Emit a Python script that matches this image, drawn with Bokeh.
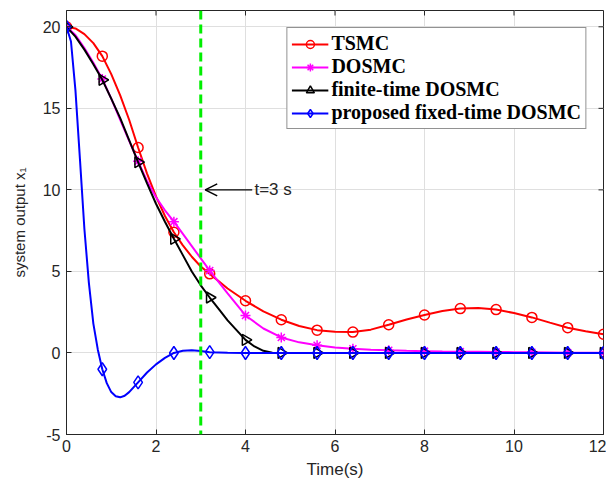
import numpy as np
from bokeh.plotting import figure
from bokeh.models import (Range1d, FixedTicker, Span, Arrow, OpenHead,
                          Label, Legend, LegendItem)
from bokeh.embed import file_html
from bokeh.resources import INLINE

# ---------------- data ----------------
t_tsmc = [0, 0.2, 0.4, 0.6, 0.8, 1.0, 1.2, 1.4, 1.6, 1.8, 2.0, 2.2, 2.4, 2.6, 2.8, 3.0, 3.2,
          3.6, 4.0, 4.4, 4.8, 5.2, 5.6, 6.0, 6.4, 6.8, 7.2, 7.6, 8.0, 8.4, 8.8, 9.2, 9.6,
          10.0, 10.4, 10.8, 11.2, 11.6, 12.0]
x1_tsmc = [20.0, 19.9, 19.55, 19.0, 18.2, 17.1, 15.8, 14.3, 12.6, 11.0, 9.6, 8.4, 7.4, 6.6, 5.9,
           5.3, 4.85, 3.95, 3.2, 2.55, 2.04, 1.65, 1.4, 1.3, 1.28, 1.43, 1.73, 2.05, 2.33, 2.57,
           2.72, 2.76, 2.66, 2.45, 2.18, 1.86, 1.55, 1.33, 1.15]

t_dosmc = t_tsmc
x1_dosmc = [20.0, 19.5, 18.7, 17.8, 16.8, 15.6, 14.3, 13.0, 11.75, 10.55, 9.55, 8.75, 8.05, 7.3,
            6.55, 5.8, 5.05, 3.65, 2.3, 1.5, 0.95, 0.65, 0.47, 0.34, 0.26, 0.2, 0.16, 0.13,
            0.11, 0.09, 0.08, 0.07, 0.06, 0.05, 0.04, 0.03, 0.02, 0.02, 0.01]

t_ft = [0, 0.2, 0.4, 0.6, 0.8, 1.0, 1.2, 1.4, 1.6, 1.8, 2.0, 2.2, 2.4, 2.6, 2.8, 3.0, 3.2,
        3.4, 3.6, 3.8, 4.0, 4.2, 4.4, 4.6, 4.8, 5.6, 6.4, 7.2, 8.0, 8.8, 9.6, 10.4, 11.2, 12.0]
x1_ft = [20.0, 19.4, 18.6, 17.7, 16.75, 15.6, 14.4, 13.05, 11.7, 10.4, 9.15, 8.05, 7.0, 6.0,
         5.0, 4.15, 3.4, 2.7, 2.0, 1.4, 0.8, 0.4, 0.13, 0.02, 0.0, 0.0, 0.0, 0.0, 0.0, 0.0,
         0.0, 0.0, 0.0, 0.0]

t_fx = [0, 0.1, 0.2, 0.3, 0.4, 0.5, 0.6, 0.7, 0.8, 0.9, 1.0, 1.1, 1.2, 1.3, 1.4, 1.6, 1.8,
        2.0, 2.2, 2.4, 2.6, 2.8, 3.0, 3.2, 3.6, 4.0, 4.8, 5.6, 6.4, 7.2, 8.0, 8.8, 9.6,
        10.4, 11.2, 12.0]
x1_fx = [20.0, 19.1, 16.1, 11.9, 7.6, 4.3, 1.8, 0.2, -1.0, -1.85, -2.4, -2.65, -2.72, -2.62,
         -2.4, -1.8, -1.2, -0.7, -0.3, 0.0, 0.13, 0.17, 0.12, 0.05, 0.01, 0.0, 0.0, 0.0,
         0.0, 0.0, 0.0, 0.0, 0.0, 0.0, 0.0, 0.0]

marker_step = 0.8
x_ticks = [0, 2, 4, 6, 8, 10, 12]
y_ticks = [-5, 0, 5, 10, 15, 20]
y_tick_labels = ["-5", "0", "5", "10", "15", "20"]
t_switch = 3
ann_text = "t=3 s"
ann_y = 10
ann_tip = 3.1
ann_tail = 4.15
ann_text_x = 4.2

labels = ["TSMC", "DOSMC", "finite-time DOSMC", "proposed fixed-time DOSMC"]

# ---------------- figure ----------------
AX = "#262626"
X0, X1, Y0, Y1 = 0, 12, -5, 21
W, H = 606, 486
BL, BR, BT, BB = 66, 3, 10, 52
TICK_PX = 5

p = figure(width=W, height=H, output_backend="svg", toolbar_location=None,
           x_range=Range1d(X0, X1), y_range=Range1d(Y0, Y1),
           min_border_left=BL, min_border_right=BR, min_border_top=BT, min_border_bottom=BB,
           background_fill_color="white", border_fill_color="white")
p.outline_line_color = AX
p.outline_line_width = 1

for ax in (p.xaxis[0], p.yaxis[0]):
    ax.major_label_text_font = "Liberation Sans"
    ax.major_label_text_font_size = "16px"
    ax.major_label_text_color = AX
    ax.axis_label_text_font = "Liberation Sans"
    ax.axis_label_text_font_style = "normal"
    ax.axis_label_text_color = AX
    ax.axis_line_color = AX
    ax.major_tick_line_color = AX
    ax.major_tick_in = TICK_PX
    ax.major_tick_out = 0
    ax.minor_tick_line_color = None

p.xaxis[0].axis_label_text_font_size = "17px"
p.yaxis[0].axis_label_text_font_size = "15px"
p.xaxis[0].ticker = FixedTicker(ticks=x_ticks)
p.yaxis[0].ticker = FixedTicker(ticks=y_ticks)
p.yaxis[0].major_label_overrides = {v: s for v, s in zip(y_ticks, y_tick_labels)}
p.xaxis[0].axis_label = "Time(s)"
p.yaxis[0].axis_label = "system output x\u2081"
p.xaxis[0].major_label_standoff = 5
p.xaxis[0].axis_label_standoff = 5
p.yaxis[0].major_label_standoff = 6
p.yaxis[0].axis_label_standoff = 12

p.xgrid.ticker = FixedTicker(ticks=x_ticks)
p.ygrid.ticker = FixedTicker(ticks=y_ticks)
p.xgrid.grid_line_color = "#dfdfdf"
p.ygrid.grid_line_color = "#dfdfdf"

# inward tick marks on the top and right frame edges (box on)
fw = W - BL - BR
fh = H - BT - BB
dy = TICK_PX * (Y1 - Y0) / fh
dx = TICK_PX * (X1 - X0) / fw
p.segment(x0=x_ticks, y0=[Y1] * len(x_ticks), x1=x_ticks, y1=[Y1 - dy] * len(x_ticks),
          line_color=AX, line_width=1)
p.segment(x0=[X1] * len(y_ticks), y0=y_ticks, x1=[X1 - dx] * len(y_ticks), y1=y_ticks,
          line_color=AX, line_width=1)


def mk(t):
    k = np.asarray(t, dtype=float) / marker_step
    return np.isclose(k, np.round(k))


series = [
    (t_tsmc, x1_tsmc, "#ff0000", "circle", 10, 0.0),
    (t_dosmc, x1_dosmc, "#ff00ff", "asterisk", 10, 0.0),
    (t_ft, x1_ft, "#000000", "triangle", 11, -np.pi / 2),
    (t_fx, x1_fx, "#0000ff", "diamond", 13, 0.0),
]

items = []
for (t, y, col, marker, size, ang), lab in zip(series, labels):
    t = np.asarray(t, dtype=float)
    y = np.asarray(y, dtype=float)
    lr = p.line(t, y, line_color=col, line_width=2)
    m = mk(t)
    sr = p.scatter(t[m], y[m], marker=marker, size=size, angle=ang,
                   line_color=col, fill_color=None, line_width=1.5)
    items.append(LegendItem(label=lab, renderers=[lr, sr]))

p.add_layout(Span(location=t_switch, dimension="height", line_color="#00ee00",
                  line_dash="9 5", line_width=3))
p.add_layout(Arrow(end=OpenHead(size=12, line_width=1.5, line_color="black"),
                   x_start=ann_tail, y_start=ann_y, x_end=ann_tip, y_end=ann_y,
                   line_width=1.2, line_color="black"))
p.add_layout(Label(x=ann_text_x, y=ann_y, text=ann_text, text_baseline="middle",
                   text_font="Liberation Sans", text_font_size="17px", text_color=AX))

legend = Legend(items=items, location="top_right", margin=17,
                label_text_font="Liberation Serif", label_text_font_style="bold",
                label_text_font_size="20px", label_text_color="black",
                border_line_color=AX, border_line_width=1, background_fill_alpha=1,
                padding=4, spacing=0, glyph_width=37, glyph_height=20, label_height=20,
                label_standoff=3)
p.add_layout(legend)

open("out.html", "w").write(file_html(p, INLINE))
